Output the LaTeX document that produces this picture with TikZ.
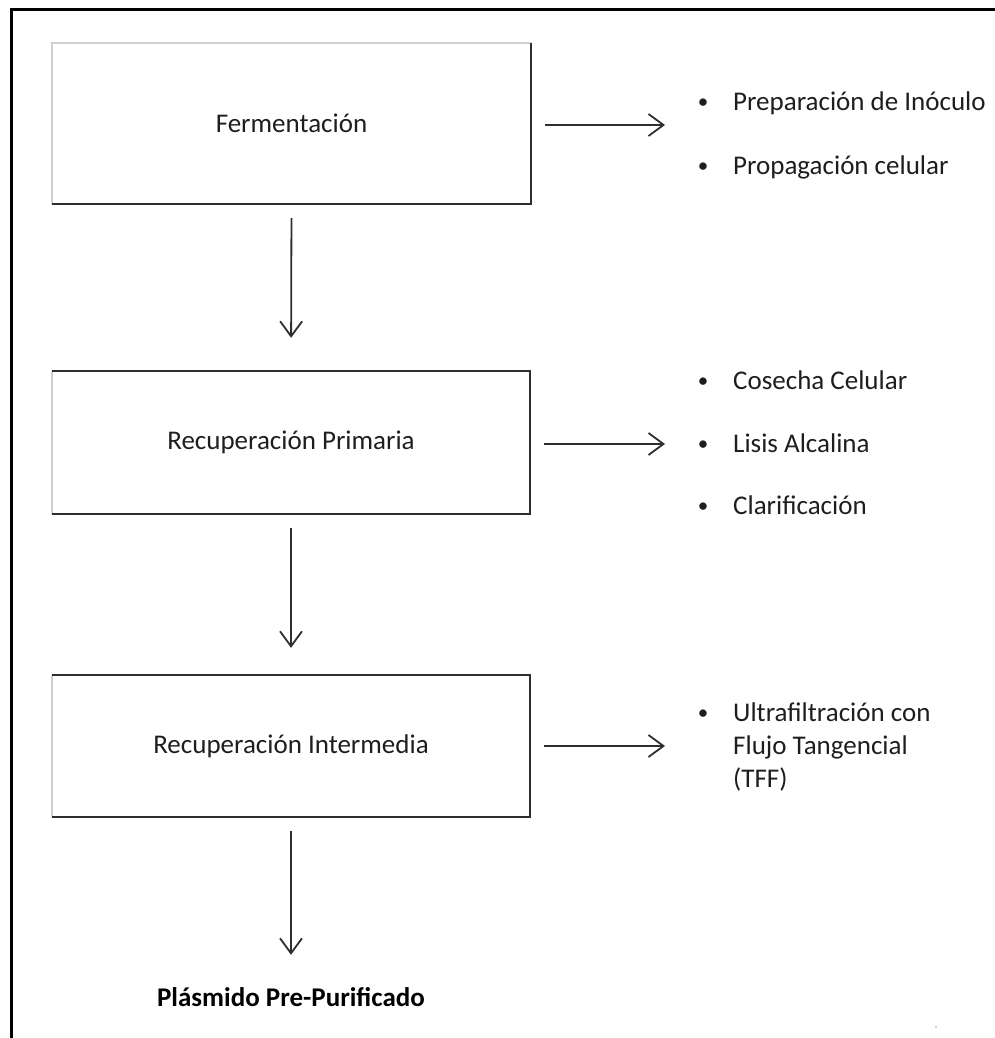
\documentclass[tikz,border=0pt]{standalone}
\usepackage{fontspec}
\setmainfont{Carlito}
\usetikzlibrary{arrows.meta}
\definecolor{txt}{HTML}{1E1E1E}
\definecolor{edge}{HTML}{2E2E2E}
\definecolor{lite}{HTML}{CFCFCF}
\begin{document}
\begin{tikzpicture}[x=1pt,y=-1pt,
  stage/.style={minimum width=478pt,inner sep=0pt,font=\fontsize{27}{33}\selectfont,text=txt},
  item/.style={anchor=base west,inner sep=0pt,font=\fontsize{27}{33}\selectfont,text=txt,align=left},
  bul/.style={anchor=base,inner sep=0pt,font=\fontsize{21}{33}\selectfont,text=txt},
  arr/.style={draw=edge,line width=1.8pt,-{Straight Barb[length=15pt,width=22pt,line width=1.8pt]}},
  darkedge/.style={draw=edge,line width=2.4pt},
  liteedge/.style={draw=lite,line width=2pt}]
\useasboundingbox (0,0) rectangle (995,1038);
% frame
\coordinate (fa) at (11,1038);
\coordinate (fb) at (11,10);
\coordinate (fc) at (995,10);
\draw[line width=3pt,black] (fa) -- (fb) -- (fc);
% stages
\node[stage,minimum height=161pt] (b1) at (291.5,123.5) {Fermentación};
\node[stage,minimum height=143pt] (b2) at (291,442.5) {Recuperación Primaria};
\node[stage,minimum height=142pt] (b3) at (291,746) {Recuperación Intermedia};
\node[inner sep=0pt,text height=18pt,text depth=6pt,font=\fontsize{27}{33}\selectfont\bfseries,text=black,anchor=base] (out) at (291,1006) {Plásmido Pre-Purificado};
% box edges
\draw[liteedge] (b1.south west) -- (b1.north west) -- (b1.north east);
\draw[darkedge] (b1.north east) -- (b1.south east) -- (b1.south west);
\draw[liteedge] (b2.south west) -- (b2.north west);
\draw[darkedge] (b2.north west) -- (b2.north east) -- (b2.south east) -- (b2.south west);
\draw[liteedge] (b3.south west) -- (b3.north west);
\draw[darkedge] (b3.north west) -- (b3.north east) -- (b3.south east) -- (b3.south west);
% lists
\node[bul] (d1a) at (703,109) {•};
\node[item] (t1a) at (733,111) {Preparación de Inóculo};
\node[bul] (d1b) at (703,172) {•};
\node[item] (t1b) at (733,174) {Propagación celular};
\node[bul] (d2a) at (703,387) {•};
\node[item] (t2a) at (733,389) {Cosecha Celular};
\node[bul] (d2b) at (703,450) {•};
\node[item] (t2b) at (733,452) {Lisis Alcalina};
\node[bul] (d2c) at (703,512) {•};
\node[item] (t2c) at (733,514) {Clarificación};
\node[bul] (d3a) at (703,719) {•};
\node[item] (t3a) at (733,787) {Ultrafiltración con\\Flujo Tangencial\\(TFF)};
% list arrow ends
\coordinate (l1) at (665,125);
\coordinate (l2) at (665,444);
\coordinate (l3) at (665,746);
% arrows
\draw[arr,shorten <=14pt] (b1.east |- l1) -- (l1);
\draw[arr,shorten <=14pt] (b2.east |- l2) -- (l2);
\draw[arr,shorten <=14pt] (b3.east |- l3) -- (l3);
\draw[arr,shorten <=14pt,shorten >=33pt] (b1.south) -- (b2.north);
\draw[arr,shorten <=14pt,shorten >=27pt] (b2.south) -- (b3.north);
\draw[arr,shorten <=14pt,shorten >=33pt] (b3.south) -- (out.north);
% small speck
\coordinate (sp) at (936,1027);
\fill[gray!45] (sp) circle (1.2pt);
\end{tikzpicture}
\end{document}
